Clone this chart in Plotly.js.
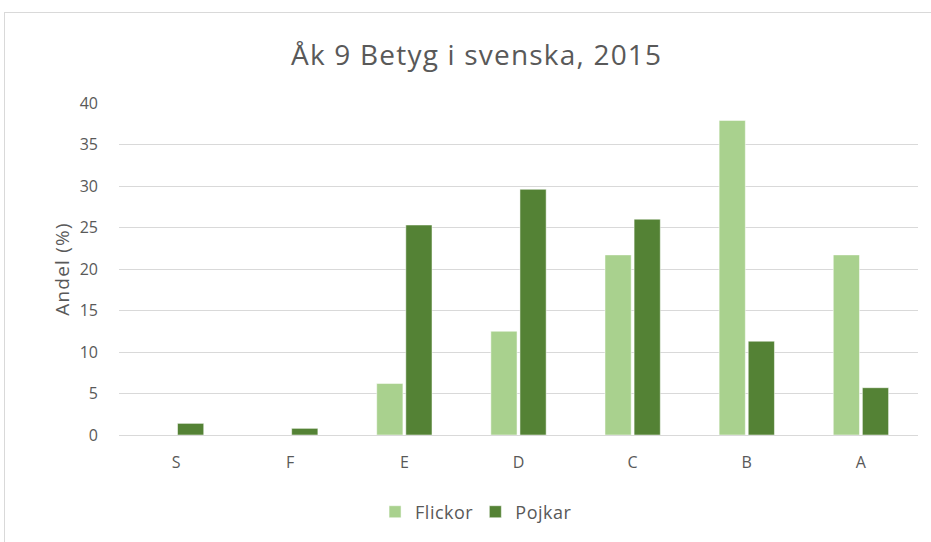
<!DOCTYPE html>
<html>
<head>
<meta charset="utf-8">
<script src="https://cdn.plot.ly/plotly-3.0.1.min.js"></script>
<style>
  html, body { margin: 0; padding: 0; background: #ffffff; overflow: hidden; }
  #frame { position: absolute; left: 4px; top: 12px; width: 960px; height: 560px; border: 1px solid #d9d9d9; box-sizing: border-box; }
  #chart { position: absolute; left: 0; top: 0; width: 931px; height: 542px; }
  #chart .gtitle { letter-spacing: 1.2px; }
  #chart .ytitle { letter-spacing: 1.2px; }
  #chart .legendtext { letter-spacing: 0.5px; }
</style>
</head>
<body>
<div id="frame"></div>
<div id="chart"></div>
<script>
const categories = ["S", "F", "E", "D", "C", "B", "A"];
const flickor = [0, 0, 6.2, 12.5, 21.7, 37.9, 21.7];
const pojkar = [1.4, 0.8, 25.3, 29.6, 26.0, 11.3, 5.7];
const yTicks = [0, 5, 10, 15, 20, 25, 30, 35, 40];

const traces = [
  { type: "bar", name: "Flickor", x: categories, y: flickor,
    marker: { color: "#a9d18e", line: { color: "#ffffff", width: 0.5 } }, hoverinfo: "x+y" },
  { type: "bar", name: "Pojkar", x: categories, y: pojkar,
    marker: { color: "#548235", line: { color: "#ffffff", width: 0.5 } }, hoverinfo: "x+y" }
];

const layout = {
  width: 931, height: 542,
  paper_bgcolor: "rgba(0,0,0,0)", plot_bgcolor: "rgba(0,0,0,0)",
  margin: { l: 119, r: 13, t: 103, b: 105 },
  font: { family: "Open Sans, Liberation Sans, sans-serif", color: "#595959", size: 16 },
  title: { text: "Åk 9 Betyg i svenska, 2015", x: 0.512, xanchor: "center", y: 0.898, yanchor: "middle",
           font: { size: 28, color: "#595959", family: "Open Sans, sans-serif" } },
  barmode: "group", bargap: 0.49, bargroupgap: 0.1,
  xaxis: { type: "category", showgrid: false, showline: false, zeroline: false, ticks: "",
           ticklabelstandoff: 16, tickfont: { size: 16, color: "#595959" }, fixedrange: true },
  yaxis: { range: [0, 40], tickvals: yTicks, ticktext: yTicks.map(String), showgrid: true,
           gridcolor: "#d9d9d9", gridwidth: 1, zeroline: true, zerolinecolor: "#d9d9d9", zerolinewidth: 1,
           showline: false, ticks: "", ticklabelstandoff: 20, tickfont: { size: 16, color: "#595959" },
           title: { text: "Andel (%)", standoff: 5, font: { size: 19, color: "#595959" } }, fixedrange: true },
  legend: { orientation: "h", x: 0.445, xanchor: "center", y: -0.232, yanchor: "middle",
            font: { size: 18, color: "#595959" }, itemwidth: 30, traceorder: "normal" },
  showlegend: true
};

Plotly.newPlot("chart", traces, layout, { displayModeBar: false, staticPlot: true });
</script>
</body>
</html>
